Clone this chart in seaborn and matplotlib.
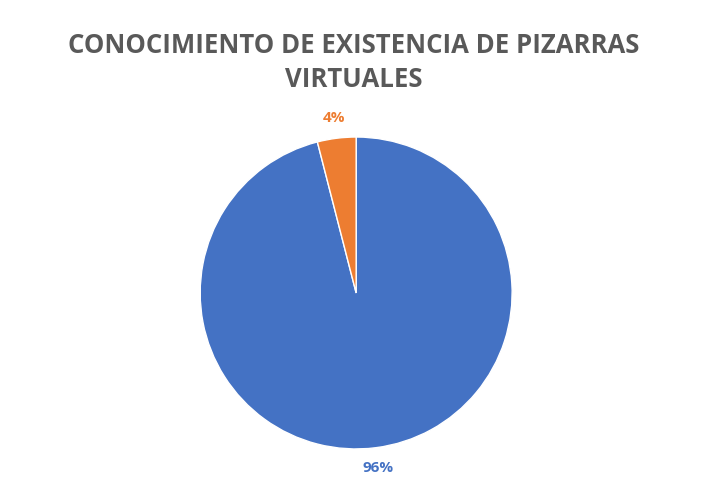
import matplotlib
matplotlib.use("Agg")
import matplotlib.pyplot as plt
import seaborn as sns

sns.set_theme(style="white")
plt.rcParams['font.family'] = ['Open Sans', 'DejaVu Sans']

categories = ["Sí", "No"]
values = [96, 4]
colors = ["#4472C4", "#ED7D31"]
title = "CONOCIMIENTO DE EXISTENCIA DE PIZARRAS\nVIRTUALES"

fig = plt.figure(figsize=(7.08, 4.92), dpi=100)
ax = fig.add_axes([0.2827, 0.0875, 0.4407, 0.634])
wedges, texts, autotexts = ax.pie(
    values, colors=colors, startangle=90, counterclock=False,
    autopct="%d%%", pctdistance=1.13,
    wedgeprops=dict(edgecolor="white", linewidth=1))
for t, c in zip(autotexts, colors):
    t.set_color(c)
    t.set_fontweight("bold")
    t.set_fontsize(11)
ax.set_xlim(-1, 1)
ax.set_ylim(-1, 1)
fig.text(0.5, 0.935, title, ha="center", va="top", fontsize=18.5,
         fontweight="bold", color="#595959", linespacing=1.35)
fig.savefig("out.png", dpi=100, facecolor="white")
